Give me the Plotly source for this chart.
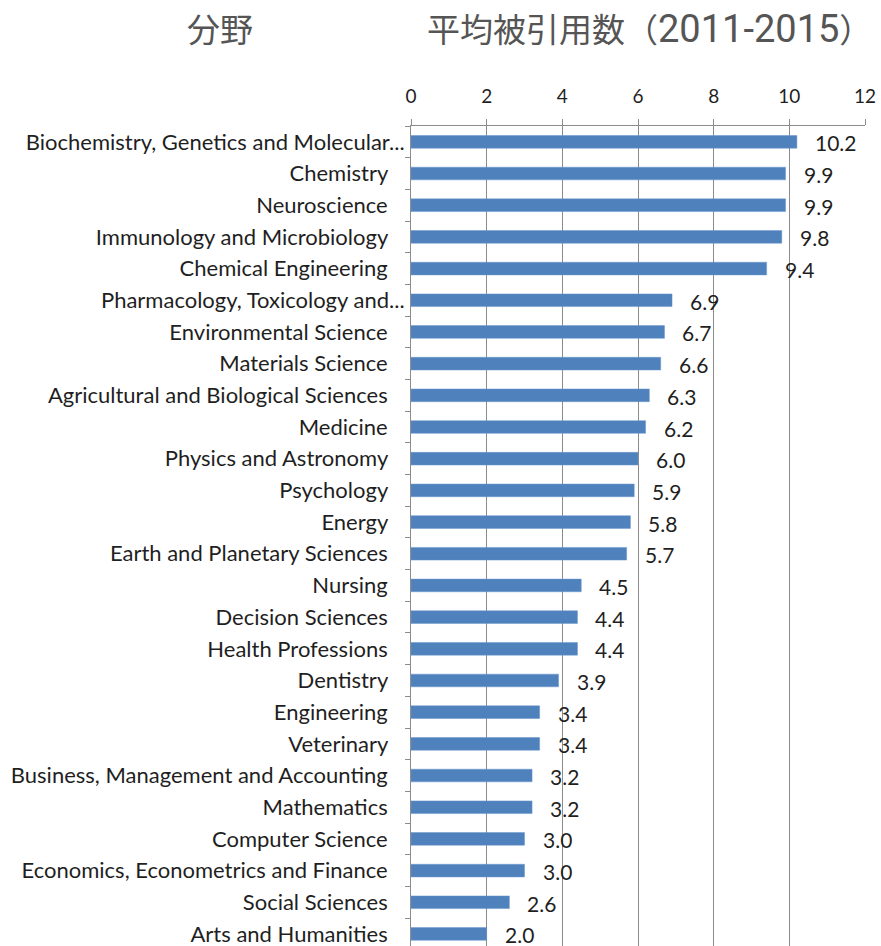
import plotly.graph_objects as go

categories = [
    "Biochemistry, Genetics and Molecular...",
    "Chemistry",
    "Neuroscience",
    "Immunology and Microbiology",
    "Chemical Engineering",
    "Pharmacology, Toxicology and...",
    "Environmental Science",
    "Materials Science",
    "Agricultural and Biological Sciences",
    "Medicine",
    "Physics and Astronomy",
    "Psychology",
    "Energy",
    "Earth and Planetary Sciences",
    "Nursing",
    "Decision Sciences",
    "Health Professions",
    "Dentistry",
    "Engineering",
    "Veterinary",
    "Business, Management and Accounting",
    "Mathematics",
    "Computer Science",
    "Economics, Econometrics and Finance",
    "Social Sciences",
    "Arts and Humanities",
]
values = [10.2, 9.9, 9.9, 9.8, 9.4, 6.9, 6.7, 6.6, 6.3, 6.2, 6.0, 5.9, 5.8, 5.7,
          4.5, 4.4, 4.4, 3.9, 3.4, 3.4, 3.2, 3.2, 3.0, 3.0, 2.6, 2.0]
x_ticks = [0, 2, 4, 6, 8, 10, 12]
title_left = "分野"
title_right = "平均被引用数（<span style='font-family:Roboto;font-size:38px'>2011-2015</span>）"

LABEL_FONT = "Lato"
TEXT_COLOR = "#1f1f1f"
GRID = "#8c8c8c"
n = len(categories)
ticktext = [c if c.endswith("...") else c + "\u00a0\u00a0\u00a0" for c in categories]

W, H = 881, 946
ML, MR, MT, MB = 411, 16, 126, 0

fig = go.Figure()
fig.add_trace(go.Bar(
    x=values, y=categories, orientation="h",
    width=0.4,
    marker=dict(color="#4F81BD", line=dict(color="#6a96cc", width=0.5)),
    hoverinfo="skip",
))

for c, v in zip(categories, values):
    fig.add_annotation(x=v, y=c, text=f"{v:.1f}", showarrow=False,
                       xanchor="left", yanchor="middle", xshift=16, yshift=-1,
                       font=dict(family=LABEL_FONT, size=21, color=TEXT_COLOR))

pw = W - ML - MR
ph = H - MT - MB
def px(xp):
    return (xp - ML) / pw
def py(yp):
    return (H - MB - yp) / ph

fig.add_annotation(x=px(220), y=py(28), xref="paper", yref="paper", text=title_left,
                   showarrow=False, xanchor="center", yanchor="middle",
                   font=dict(family="Noto Sans CJK JP", size=33, color="#555555"))
fig.add_annotation(x=px(425), y=py(28), xref="paper", yref="paper", text=title_right,
                   showarrow=False, xanchor="left", yanchor="middle",
                   font=dict(family="Noto Sans CJK JP", size=33, color="#555555"))

fig.update_layout(
    width=W, height=H,
    margin=dict(l=ML, r=MR, t=MT, b=MB, autoexpand=False),
    paper_bgcolor="white", plot_bgcolor="white",
    showlegend=False,
)

fig.update_xaxes(
    side="top", range=[0, 12], tickvals=x_ticks, ticktext=[str(t) for t in x_ticks],
    showgrid=True, gridcolor=GRID, gridwidth=1,
    showline=True, linecolor=GRID, linewidth=1,
    ticks="outside", ticklen=6, tickcolor=GRID,
    tickfont=dict(family=LABEL_FONT, size=19, color=TEXT_COLOR),
    ticklabelstandoff=8, zeroline=False, fixedrange=True,
)
fig.update_yaxes(
    type="category", categoryorder="array", categoryarray=categories,
    range=[n - 1 + 0.38, -0.5],
    tickmode="array", tickvals=categories, ticktext=ticktext,
    tickson="boundaries", ticks="outside", ticklen=5, tickcolor=GRID,
    showgrid=False, showline=True, linecolor=GRID, linewidth=1,
    tickfont=dict(family=LABEL_FONT, size=22, color=TEXT_COLOR),
    ticklabelstandoff=1, zeroline=False, fixedrange=True,
)

fig.write_html("out.html", config={"displayModeBar": False},
               post_script="document.body.style.margin='0';")
